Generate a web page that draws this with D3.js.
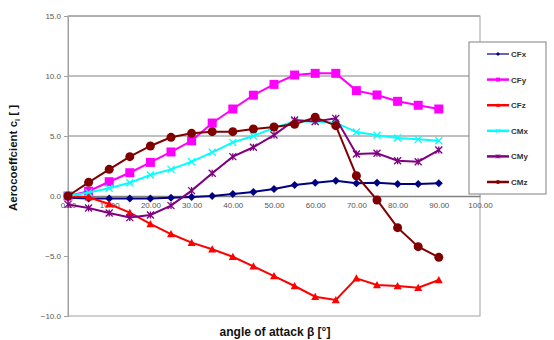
<!DOCTYPE html>
<html><head><meta charset="utf-8">
<script src="https://cdn.jsdelivr.net/npm/d3@7"></script>
<style>body{margin:0;background:#fff}svg{display:block;font-family:"Liberation Sans",Arial,sans-serif}</style>
</head><body><svg id="c" width="554" height="340"></svg>
<script>
const angles = [0,5,10,15,20,25,30,35,40,45,50,55,60,65,70,75,80,85,90];
const CFx = [-0.15,-0.2,-0.2,-0.2,-0.2,-0.15,-0.08,0,0.17,0.34,0.58,0.92,1.11,1.28,1.06,1.11,1.0,1.0,1.06];
const CFy = [0,0.4,1.19,1.94,2.8,3.67,4.6,6.08,7.25,8.4,9.3,10.08,10.22,10.22,8.78,8.42,7.89,7.56,7.25];
const CFz = [0,-0.1,-0.67,-1.39,-2.33,-3.17,-3.89,-4.44,-5.06,-5.86,-6.67,-7.5,-8.39,-8.67,-6.86,-7.42,-7.5,-7.64,-7.0];
const CMx = [0,0.3,0.64,1.11,1.75,2.22,2.86,3.64,4.47,5.0,5.69,6.2,6.2,6.11,5.33,5.06,4.83,4.72,4.61];
const CMy = [-0.7,-1.0,-1.42,-1.8,-1.58,-0.8,0.45,1.89,3.28,4.06,5.08,6.33,6.2,6.47,3.5,3.56,2.94,2.86,3.83];
const CMz = [0,1.14,2.22,3.28,4.17,4.89,5.22,5.36,5.36,5.58,5.75,5.97,6.56,5.86,1.69,-0.33,-2.64,-4.22,-5.11];
const seriesNames = ["CFx","CFy","CFz","CMx","CMy","CMz"];
const xTicks = [0,10,20,30,40,50,60,70,80,90,100];
const yTicks = [-10,-5,0,5,10,15];
const xTitle = "angle of attack β [°]";

const data = {CFx,CFy,CFz,CMx,CMy,CMz};
const styles = {
  CFx:{color:"#000080", marker:"diamond", w:2},
  CFy:{color:"#FF00FF", marker:"square", w:2},
  CFz:{color:"#FF0000", marker:"triangle", w:2},
  CMx:{color:"#00FFFF", marker:"x", w:2},
  CMy:{color:"#800080", marker:"star", w:2},
  CMz:{color:"#800000", marker:"circle", w:2}
};

const svg = d3.select("#c");
const L=68,R=480,T=16,B=316;
const x = d3.scaleLinear().domain([0,100]).range([L,R]);
const y = d3.scaleLinear().domain([-10,15]).range([B,T]);

// gridlines at positive values
svg.append("g").selectAll("line").data(yTicks.filter(v=>v>0)).join("line")
  .attr("x1",L).attr("x2",R).attr("y1",d=>y(d)).attr("y2",d=>y(d))
  .attr("stroke","#808080").attr("stroke-width",1);
// plot border
svg.append("rect").attr("x",L).attr("y",T).attr("width",R-L).attr("height",B-T)
  .attr("fill","none").attr("stroke","#a0a0a0").attr("stroke-width",1);

// y axis
const yAxis = d3.axisLeft(y).tickValues(yTicks).tickSize(4).tickFormat(d3.format(".1f"));
const gy = svg.append("g").attr("transform",`translate(${L},0)`).call(yAxis);
gy.select(".domain").attr("stroke","#a0a0a0");
gy.selectAll(".tick line").attr("stroke","#a0a0a0");
gy.selectAll("text").attr("font-size",8).attr("fill","#555").attr("font-family","Liberation Sans, Arial");

// x axis at y=0
const xAxis = d3.axisBottom(x).tickValues(xTicks).tickSize(0).tickPadding(6).tickFormat(d3.format(".2f"));
const gx = svg.append("g").attr("transform",`translate(0,${y(0)})`).call(xAxis);
gx.select(".domain").attr("stroke","#808080").attr("stroke-width",1.5);
gx.selectAll("text").attr("font-size",8).attr("fill","#555").attr("font-family","Liberation Sans, Arial");

function markerPath(type, size){
  const s=size;
  switch(type){
    case "diamond": return `M0,${-s}L${s},0L0,${s}L${-s},0Z`;
    case "square": return `M${-s},${-s}H${s}V${s}H${-s}Z`;
    case "triangle": return `M0,${-s}L${s},${s*0.8}L${-s},${s*0.8}Z`;
    case "x": return `M${-s},${-s}L${s},${s}M${s},${-s}L${-s},${s}`;
    case "star": return `M${-s},${-s}L${s},${s}M${s},${-s}L${-s},${s}M0,${-s}V${s}`;
  }
}

const line = d3.line().x((d,i)=>x(angles[i])).y(d=>y(d));
seriesNames.forEach(n=>{
  const st=styles[n];
  const g=svg.append("g");
  g.append("path").datum(data[n]).attr("d",line).attr("fill","none")
    .attr("stroke",st.color).attr("stroke-width",st.w);
  const pts=g.selectAll(".m").data(data[n]).join(st.marker==="circle"?"circle":"path")
    .attr("transform",(d,i)=>`translate(${x(angles[i])},${y(d)})`);
  if(st.marker==="circle"){
    pts.attr("r",4.5).attr("fill",st.color);
  } else if(st.marker==="x"||st.marker==="star"){
    pts.attr("d",markerPath(st.marker,3.5)).attr("stroke",st.color).attr("stroke-width",1.3).attr("fill","none");
  } else {
    const sz = st.marker==="square"?4.5:(st.marker==="diamond"?4:4);
    pts.attr("d",markerPath(st.marker,sz)).attr("fill",st.color);
  }
});

// legend
const lg = svg.append("g");
lg.append("rect").attr("x",469).attr("y",42).attr("width",77).attr("height",152)
  .attr("fill","#fff").attr("stroke","#808080").attr("stroke-width",1);
const ly = d3.scalePoint().domain(seriesNames).range([54,182]);
seriesNames.forEach(n=>{
  const st=styles[n]; const yy=ly(n);
  lg.append("line").attr("x1",487).attr("x2",509).attr("y1",yy).attr("y2",yy)
    .attr("stroke",st.color).attr("stroke-width",n==="CFx"?1.2:2.5);
  if(st.marker==="circle") lg.append("circle").attr("cx",498).attr("cy",yy).attr("r",2).attr("fill",st.color);
  else if(st.marker==="x"||st.marker==="star") lg.append("path").attr("transform",`translate(498,${yy})`).attr("d",markerPath(st.marker,2)).attr("stroke",st.color).attr("fill","none");
  else lg.append("path").attr("transform",`translate(498,${yy})`).attr("d",markerPath(st.marker,2)).attr("fill",st.color);
  lg.append("text").attr("x",511).attr("y",yy+3).attr("font-size",8).attr("font-weight","bold")
    .attr("fill","#333").text(n);
});

// titles
svg.append("text").attr("x",275).attr("y",336).attr("text-anchor","middle")
  .attr("font-size",12).attr("font-weight","bold").attr("fill","#111").text(xTitle);
const yt = svg.append("text").attr("transform","translate(17,158) rotate(-90)").attr("text-anchor","middle")
  .attr("font-size",11.5).attr("font-weight","bold").attr("fill","#111");
yt.append("tspan").text("Aerocoeffcient c");
yt.append("tspan").attr("font-size",7).attr("dy",3).text("i");
yt.append("tspan").attr("dy",-3).text(" [ ]");
</script></body></html>
